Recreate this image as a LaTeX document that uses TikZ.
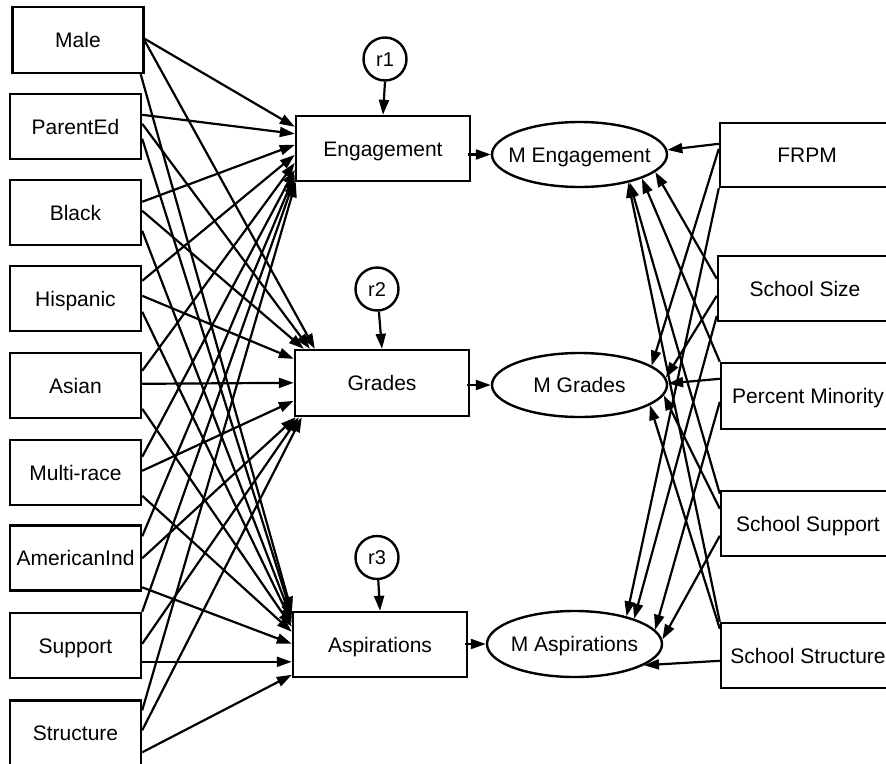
\documentclass[tikz,border=0pt]{standalone}
\usepackage{fontspec}
\setmainfont{Liberation Sans}
\usetikzlibrary{arrows.meta,shapes.geometric}
\begin{document}
\begin{tikzpicture}[x=1pt,y=-1pt,
  font=\fontsize{21}{25}\selectfont,
  lw/.style={line width=2.2pt},
  txt/.style={text height=15pt,text depth=0pt},
  box/.style={draw,line width=2.4pt,rectangle,inner sep=0pt,minimum height=65pt,txt},
  varbox/.style={box,minimum width=131pt},
  midbox/.style={box,minimum width=174pt},
  oval/.style={draw,line width=2.4pt,ellipse,inner sep=0pt,minimum width=175pt,minimum height=65pt,txt},
  resid/.style={draw,line width=2.4pt,circle,inner sep=0pt,minimum size=43pt,
    font=\fontsize{20}{24}\selectfont,text height=14pt,text depth=0pt},
  arr/.style={lw,-{Triangle[length=15pt,width=10pt]}}]
\useasboundingbox (0,0) rectangle (886,763);
\clip (0,0) rectangle (886,763);
\fill[white] (0,0) rectangle (886,763);

% exogenous student variables
\node[varbox,minimum height=66pt] (male) at (78,40) {Male};
\node[varbox] (parent) at (75.5,126.5) {ParentEd};
\node[varbox] (black) at (75.5,212.5) {Black};
\node[varbox] (hisp) at (75.5,298.5) {Hispanic};
\node[varbox] (asian) at (75.5,385.5) {Asian};
\node[varbox] (multi) at (75.5,472.5) {Multi-race};
\node[varbox] (amind) at (75.5,558) {AmericanInd};
\node[varbox] (lsupport) at (75.5,645.5) {Support};
\node[varbox] (lstructure) at (75.5,733) {Structure};

% student outcomes
\node[midbox] (eng) at (383,148.5) {Engagement};
\node[midbox,minimum height=66pt] (grades) at (382,383) {Grades};
\node[midbox] (asp) at (380,644.5) {Aspirations};

% residuals
\node[resid] (r1) at (385,59) {r1};
\node[resid] (r2) at (377,289) {r2};
\node[resid] (r3) at (377,557.5) {r3};

% school means
\node[oval] (meng) at (579.5,154.5) {\makebox[0pt]{M Engagement}};
\node[oval,minimum height=64pt] (mgrades) at (579.5,385) {\makebox[0pt]{M Grades}};
\node[oval,minimum height=66pt] (masp) at (574.5,644) {\makebox[0pt]{M Aspirations}};

% school-level predictors
\node[midbox,minimum height=64pt] (frpm) at (807,155) {FRPM};
\node[midbox] (ssize) at (805,288.5) {School Size};
\node[midbox,minimum height=66pt] (minority) at (808,396) {Percent Minority};
\node[midbox] (ssupport) at (808,523.5) {School Support};
\node[midbox] (sstructure) at (808,655.5) {School Structure};

% residual paths
\draw[arr] (r1.south) -- (eng.north);
\draw[arr] (r2) -- (grades.north);
\draw[arr] (r3) -- (asp.north);

% outcome to school mean
\draw[arr] ([xshift=-3pt]eng.east |- meng.west) -- (meng.west);
\draw[arr] ([xshift=-3pt]grades.east |- mgrades.west) -- (mgrades.west);
\draw[arr] ([xshift=-3pt]asp.east |- masp.west) -- (masp.west);

% Male
\draw[arr] ([yshift=-33pt]male.north east) -- ([yshift=-12pt]eng.north west);
\draw[arr] ([yshift=-35pt]male.north east) -- ([xshift=21pt]grades.north west);
\draw[arr] ([xshift=-4pt]male.south east) -- ([yshift=-1pt]asp.north west);
% ParentEd
\draw[arr] ([yshift=-22pt]parent.north east) -- ([yshift=-19pt]eng.north west);
\draw[arr] ([yshift=-31pt]parent.north east) -- ([xshift=16pt]grades.north west);
\draw[arr] ([yshift=-46pt]parent.north east) -- ([yshift=-4pt]asp.north west);
% Black
\draw[arr] ([yshift=-23pt]black.north east) -- ([yshift=-30pt]eng.north west);
\draw[arr] ([yshift=-32pt]black.north east) -- ([xshift=10pt]grades.north west);
\draw[arr] ([yshift=-52pt]black.north east) -- ([yshift=-8pt]asp.north west);
% Hispanic
\draw[arr] ([yshift=-16pt]hisp.north east) -- ([yshift=-40pt]eng.north west);
\draw[arr] ([yshift=-31pt]hisp.north east) -- ([yshift=-10pt]grades.north west);
\draw[arr] ([yshift=-47pt]hisp.north east) -- ([yshift=-12pt]asp.north west);
% Asian
\draw[arr] ([yshift=-19pt]asian.north east) -- ([yshift=-48pt]eng.north west);
\draw[arr] ([yshift=-32pt]asian.north east) -- ([yshift=-34pt]grades.north west);
\draw[arr] ([yshift=-57pt]asian.north east) -- ([yshift=-16pt]asp.north west);
% Multi-race
\draw[arr] ([yshift=-18pt]multi.north east) -- ([yshift=-55pt]eng.north west);
\draw[arr] ([yshift=-32pt]multi.north east) -- ([yshift=-52pt]grades.north west);
\draw[arr] ([yshift=-57pt]multi.north east) -- ([yshift=-21pt]asp.north west);
% AmericanInd
\draw[arr] ([yshift=-12pt]amind.north east) -- ([yshift=-60pt]eng.north west);
\draw[arr] ([yshift=-34pt]amind.north east) -- ([xshift=2pt]grades.south west);
\draw[arr] ([yshift=-63pt]amind.north east) -- ([yshift=-33pt]asp.north west);
% Support
\draw[arr] (lsupport.north east) -- ([yshift=-64pt]eng.north west);
\draw[arr] ([yshift=-32pt]lsupport.north east) -- ([xshift=5pt]grades.south west);
\draw[arr] ([yshift=-50pt]lsupport.north east) -- ([yshift=-51pt]asp.north west);
% Structure
\draw[arr] ([yshift=-11pt]lstructure.north east) -- ([xshift=1pt]eng.south west);
\draw[arr] ([yshift=-31pt]lstructure.north east) -- ([xshift=8pt]grades.south west);
\draw[arr] ([yshift=-53pt]lstructure.north east) -- ([yshift=-64pt]asp.north west);

% FRPM
\draw[arr] ([yshift=-22pt]frpm.north west) -- (meng.3);
\draw[arr] ([yshift=-27pt]frpm.north west) -- (mgrades.15);
\draw[arr] (frpm.south west) -- (masp.28);
% School Size
\draw[arr] ([yshift=-24pt]ssize.north west) -- (meng.-13);
\draw[arr] ([yshift=-41pt]ssize.north west) -- (mgrades.5);
\draw[arr] ([yshift=-61pt]ssize.north west) -- (masp.23);
% Percent Minority
\draw[arr] (minority.north west) -- (meng.-21);
\draw[arr] ([yshift=-17pt]minority.north west) -- (mgrades.1);
\draw[arr] ([yshift=-40pt]minority.north west) -- (masp.10);
% School Support
\draw[arr] ([yshift=-4pt]ssupport.north west) -- (meng.-29);
\draw[arr] ([yshift=-19pt]ssupport.north west) -- (mgrades.-7);
\draw[arr] ([yshift=-46pt]ssupport.north west) -- (masp.3);
% School Structure
\draw[arr] (sstructure.north west) -- (meng.-30.5);
\draw[arr] ([yshift=-7pt]sstructure.north west) -- (mgrades.-16);
\draw[arr] ([yshift=-39pt]sstructure.north west) -- (masp.-17);
\end{tikzpicture}
\end{document}
